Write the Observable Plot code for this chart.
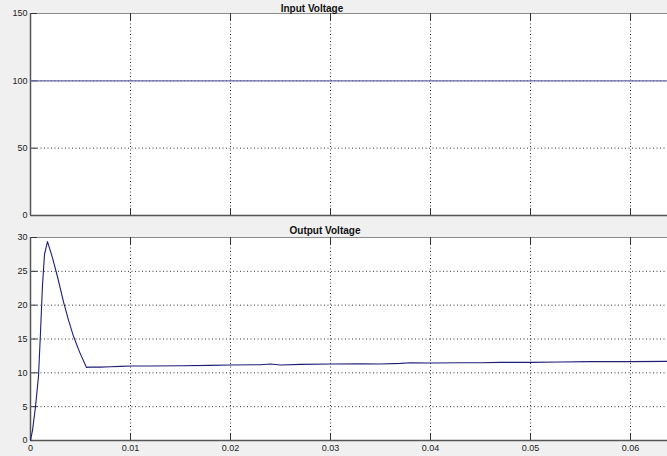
<!DOCTYPE html>
<html><head><meta charset="utf-8">
<script src="https://cdn.jsdelivr.net/npm/d3@7"></script>
<script src="https://cdn.jsdelivr.net/npm/@observablehq/plot@0.6"></script>
<style>
body{margin:0;background:#f0f0f0;}
#wrap{position:relative;width:667px;height:456px;overflow:hidden;background:#f0f0f0;}
.ttl{position:absolute;font:bold 10px "Liberation Sans",Arial,sans-serif;color:#111;transform:translateX(-50%);white-space:nowrap;line-height:1;}
svg{display:block;}
</style></head>
<body>
<div id="wrap">
  <div id="p1" style="position:absolute;left:0;top:0;"></div>
  <div id="p2" style="position:absolute;left:0;top:222px;"></div>
  <div class="ttl" id="t1" style="left:312px;top:4px;"></div>
  <div class="ttl" id="t2" style="left:325px;top:226px;"></div>
</div>
<script>
const titles = ["Input Voltage", "Output Voltage"];
const xDomain = [0, 0.0637];
const xTicks = [0, 0.01, 0.02, 0.03, 0.04, 0.05, 0.06];
const xTickLabels = ["0", "0.01", "0.02", "0.03", "0.04", "0.05", "0.06"];
const inputTime = [0, 0.0637];
const inputValue = [100, 100];
const inputYTicks = [0, 50, 100, 150];
const outputYTicks = [0, 5, 10, 15, 20, 25, 30];
const outTime = [0, 0.0002, 0.0005, 0.0008, 0.001, 0.0012, 0.0014, 0.0017, 0.0022, 0.0027, 0.0033, 0.0038, 0.0043, 0.0049, 0.0056, 0.006, 0.007, 0.008, 0.009, 0.01, 0.012, 0.015, 0.018, 0.02, 0.023, 0.024, 0.025, 0.027, 0.03, 0.033, 0.035, 0.037, 0.038, 0.04, 0.043, 0.045, 0.047, 0.05, 0.053, 0.056, 0.06, 0.0637];
const outValue = [0, 1.5, 5, 9.5, 16, 23, 27.5, 29.4, 27, 24.2, 20.5, 17.8, 15.4, 13.1, 10.8, 10.85, 10.85, 10.9, 10.95, 11.0, 11.0, 11.05, 11.1, 11.15, 11.2, 11.3, 11.15, 11.25, 11.3, 11.35, 11.3, 11.4, 11.5, 11.45, 11.5, 11.5, 11.55, 11.55, 11.6, 11.65, 11.65, 11.7];

const W = 667, ML = 30, MR = 0;
const TL = 7;

function panel({height, mt, mb, yDomain, yTicks, xs, ys, color, showX}) {
  const plotH = height - mt - mb, plotW = W - ML - MR;
  const data = xs.map((t, i) => ({t, v: ys[i]}));
  const labelMap = new Map(xTicks.map((t, i) => [t, xTickLabels[i]]));
  const marks = [
    Plot.frame({fill: "white", stroke: "none"}),
    Plot.gridX(xTicks, {stroke: "#000", strokeOpacity: 0.8, strokeDasharray: "1,2.5"}),
    Plot.gridY(yTicks, {stroke: "#000", strokeOpacity: 0.8, strokeDasharray: "1,2.5"}),
    Plot.frame({stroke: "#8a8a8a", strokeWidth: 1}),
    Plot.tickX(xTicks, {x: d => d, insetTop: plotH - TL, stroke: "#333", strokeWidth: 1}),
    Plot.tickX(xTicks, {x: d => d, insetBottom: plotH - TL, stroke: "#333", strokeWidth: 1}),
    Plot.tickY(yTicks, {y: d => d, insetRight: plotW - TL, stroke: "#333", strokeWidth: 1}),
    Plot.ruleX([xDomain[0]], {stroke: "#555", strokeWidth: 1.5}),
    Plot.ruleY([yDomain[0]], {stroke: "#555", strokeWidth: 1.5}),
    Plot.line(data, {x: "t", y: "v", stroke: color, strokeWidth: 1.1}),
    Plot.axisY({ticks: yTicks, tickSize: 0, tickPadding: 3, label: null, fill: "#222"})
  ];
  if (showX) marks.push(Plot.axisX({ticks: xTicks, tickSize: 0, tickPadding: 4, label: null, fill: "#222", tickFormat: d => labelMap.get(d)}));
  return Plot.plot({
    width: W, height, marginLeft: ML, marginRight: MR, marginTop: mt, marginBottom: mb,
    style: {background: "transparent", fontSize: "9px", fontFamily: "Liberation Sans, Arial, sans-serif", overflow: "visible"},
    x: {domain: xDomain, axis: null},
    y: {domain: yDomain, axis: null},
    marks
  });
}

document.getElementById("p1").append(panel({height: 222, mt: 13, mb: 7, yDomain: [0, 150], yTicks: inputYTicks, xs: inputTime, ys: inputValue, color: "#6a6aae", showX: false}));
document.getElementById("p2").append(panel({height: 234, mt: 15, mb: 16, yDomain: [0, 30], yTicks: outputYTicks, xs: outTime, ys: outValue, color: "#1e1e78", showX: true}));
document.getElementById("t1").textContent = titles[0];
document.getElementById("t2").textContent = titles[1];
</script>
</body></html>
